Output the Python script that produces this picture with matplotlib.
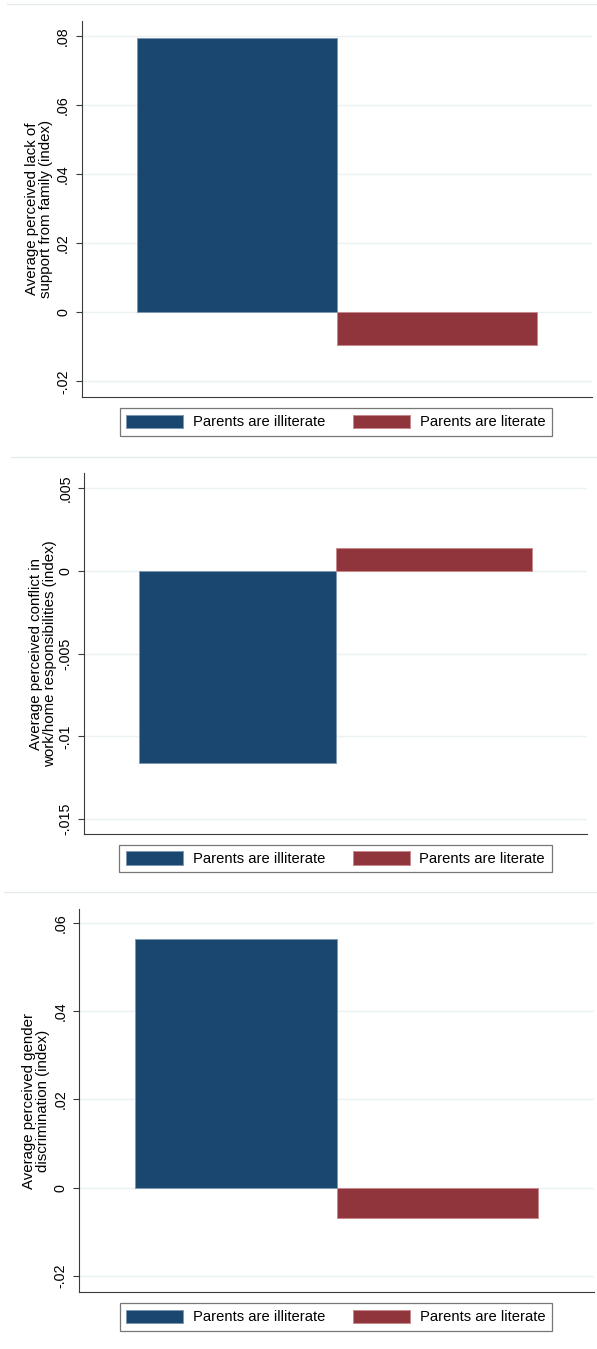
import matplotlib.pyplot as plt
from matplotlib.lines import Line2D
from matplotlib.patches import Patch
from matplotlib.ticker import FuncFormatter

plt.rcParams['font.family'] = ['Liberation Sans', 'DejaVu Sans']

# Data
groups = ['Parents are illiterate', 'Parents are literate']
support_vals = [0.0795, -0.0096]
conflict_vals = [-0.0116, 0.0014]
discrim_vals = [0.0564, -0.0068]

support_ticks = [-0.02, 0, 0.02, 0.04, 0.06, 0.08]
conflict_ticks = [-0.015, -0.01, -0.005, 0, 0.005]
discrim_ticks = [-0.02, 0, 0.02, 0.04, 0.06]

ylabels = ['Average perceived lack of\nsupport from family (index)',
           'Average perceived conflict in\nwork/home responsibilities (index)',
           'Average perceived gender\ndiscrimination (index)']

colors = ['#1a476f', '#90353b']
edges = ['#7d98b0', '#c7898d']

W, H = 597, 1349
fig = plt.figure(figsize=(W / 100, H / 100), dpi=100)


def px_axes(left, top, right, bottom):
    return fig.add_axes([left / W, 1 - bottom / H, (right - left) / W, (bottom - top) / H])


def stata_fmt(v, pos):
    if abs(v) < 1e-12:
        return '0'
    s = ('%g' % v)
    return s.replace('0.', '.')


# panel boxes (pixels), y limits, legend centers, label right edge
panels = [
    dict(box=(81.7, 21, 592, 397.3), ylim=(-0.02461, 0.08435), vals=support_vals,
         ticks=support_ticks, leg=(336, 422), labx=53, sep=(7, 4.3)),
    dict(box=(84.3, 472.7, 587, 834.3), ylim=(-0.01592, 0.00592), vals=conflict_vals,
         ticks=conflict_ticks, leg=(335.5, 858.5), labx=57, sep=(11, 456.7)),
    dict(box=(79, 909.3, 594, 1292.3), ylim=(-0.02372, 0.06313), vals=discrim_vals,
         ticks=discrim_ticks, leg=(336, 1317), labx=50, sep=(4, 892.3)),
]

for i, p in enumerate(panels):
    left, top, right, bottom = p['box']
    ax = px_axes(left, top, right, bottom)
    ax.bar([0, 1], p['vals'], width=1.0, color=colors, edgecolor=edges, linewidth=0.7, zorder=2)
    ax.set_xlim(-0.777, 1.777)
    ax.set_ylim(*p['ylim'])
    ax.set_yticks(p['ticks'])
    ax.yaxis.set_major_formatter(FuncFormatter(stata_fmt))
    ax.set_xticks([])
    ax.grid(True, axis='y', color='#eaf2f3', linewidth=1.0)
    ax.set_axisbelow(True)
    for s in ['top', 'right']:
        ax.spines[s].set_visible(False)
    for s in ['left', 'bottom']:
        ax.spines[s].set_color('#3a3a3a')
        ax.spines[s].set_linewidth(0.8)
    ax.tick_params(axis='y', direction='out', length=4.3, width=0.8, color='#3a3a3a',
                   labelsize=10.3, pad=4)
    for lab in ax.get_yticklabels():
        lab.set_rotation(90)
        lab.set_va('center')
    ax.set_ylabel(ylabels[i], fontsize=10.8, linespacing=1.0)
    ax.yaxis.set_label_coords((p['labx'] - left) / (right - left), 0.5)

    handles = [Patch(facecolor=colors[k], edgecolor=edges[k], linewidth=0.7) for k in range(2)]
    leg = fig.legend(handles, groups, loc='center', ncol=2,
                     bbox_to_anchor=(p['leg'][0] / W, 1 - p['leg'][1] / H),
                     fontsize=10.6, frameon=True, fancybox=False, shadow=False,
                     handlelength=3.86, handleheight=1.02, handletextpad=0.66,
                     columnspacing=1.9, borderpad=0.45, borderaxespad=0)
    leg.get_frame().set_edgecolor('#555555')
    leg.get_frame().set_linewidth(0.9)

    # faint outer border of each pasted graph
    sx, sy = p['sep']
    fig.add_artist(Line2D([sx / W, 1], [1 - sy / H, 1 - sy / H], color='#e6eced', linewidth=1.0))

fig.savefig('out.png', dpi=100)
